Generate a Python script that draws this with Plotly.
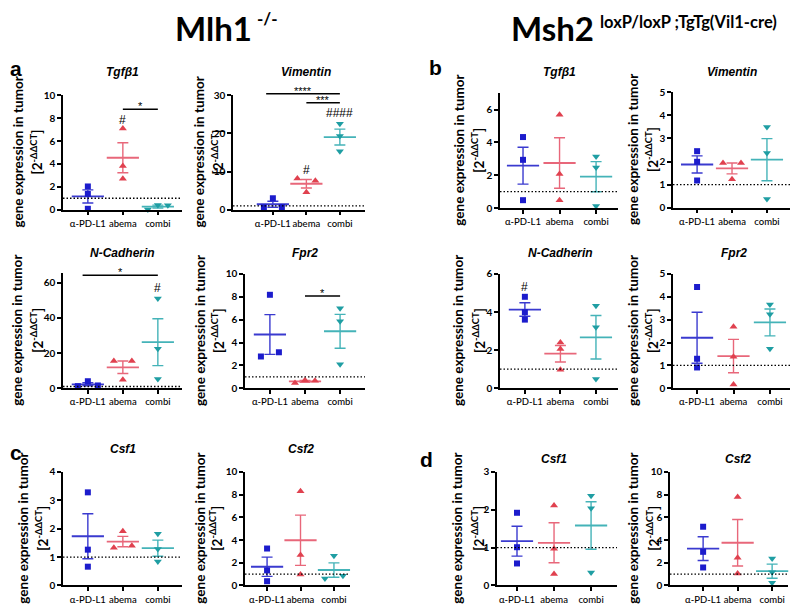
import numpy as np
import plotly.graph_objects as go

# ---------------- data ----------------
categories = ["α-PD-L1", "abema", "combi"]

# each: [alpha-PD-L1 values, abema values, combi values]
a_tgfb1 = [[2.03, 1.37, 0.08], [7.09, 3.82, 2.71], [0.42, 0.02, 0.38]]
a_vimentin = [[3.0, 0.6, 0.7], [8.2, 7.6, 4.6], [22.5, 19.3, 15.3]]
a_ncadherin = [[4.0, 1.2, 1.6], [15.5, 15.5, 4.8], [51.0, 22.5, 5.2]]
a_fpr2 = [[8.18, 2.78, 3.15], [0.70, 0.45, 0.65], [7.0, 5.86, 2.1]]
b_tgfb1 = [[4.33, 2.94, 0.48], [5.69, 2.07, 0.48], [3.14, 2.48, 0.12]]
b_vimentin = [[2.45, 1.99, 1.18], [1.94, 1.94, 1.23], [3.5, 2.37, 0.38]]
b_ncadherin = [[4.8, 3.99, 3.6], [2.4, 2.06, 0.96], [4.33, 3.2, 0.48]]
b_fpr2 = [[4.43, 1.29, 0.91], [2.69, 1.38, 0.16], [3.67, 3.24, 1.73]]
c_csf1 = [[3.28, 1.26, 0.66], [1.91, 1.33, 1.40], [1.82, 1.28, 0.84]]
c_csf2 = [[3.25, 1.32, 0.37], [8.3, 2.67, 0.97], [2.61, 0.6, 0.86]]
d_csf1 = [[1.92, 1.01, 0.58], [2.11, 0.97, 0.30], [2.37, 2.04, 0.34]]
d_csf2 = [[5.17, 2.96, 1.58], [7.78, 2.44, 1.06], [2.38, 1.15, 0.23]]

# significance: bars (x0, x1, y, label) and marks (x, y, label)
sig_a_tgfb1 = dict(bars=[(1, 2, 8.78, "*")], marks=[(1, 7.85, "#")])
sig_a_vimentin = dict(bars=[(-0.2, 2, 30.4, "****"), (1, 2, 28.0, "***")],
                      marks=[(1, 10.4, "#"), (2, 25.3, "####")])
sig_a_ncadherin = dict(bars=[(-0.15, 2, 64.3, "*")], marks=[(2, 56.8, "#")])
sig_a_fpr2 = dict(bars=[(1, 2, 8.07, "*")], marks=[])
sig_b_ncadherin = dict(bars=[], marks=[(0, 5.3, "#")])
no_sig = dict(bars=[], marks=[])

# ---------------- layout / style ----------------
# the page body has an 8px margin, so the figure is 792x602 placed at (8, 8)
OFF = 8
W, H = 800 - OFF, 610 - OFF
def px(x): return (x - OFF) / W
def py(y): return 1 - (y - OFF) / H

COLORS = ["#1c1ccc", "#e0414f", "#1f9ea3"]
LINECOLORS = ["#3a3acf", "#e8677a", "#44b3b8"]
SYMBOLS = ["square", "triangle-up", "triangle-down"]
SIZES = [6, 7, 7]
FONT = "Lato"

panels = [
    dict(data=a_tgfb1, sig=sig_a_tgfb1, title="Tgfβ1", xpx=(63, 182), ypx=(90, 207), yr=(0, 10),
         yt=[0, 2, 4, 6, 8, 10], xr=(-0.71, 2.69), tpy=66, ytx=(18, 37)),
    dict(data=a_vimentin, sig=sig_a_vimentin, title="Vimentin", xpx=(233, 365), ypx=(90, 207), yr=(0, 30),
         yt=[0, 10, 20, 30], xr=(-1.19, 2.75), tpy=66, ytx=(199, 218)),
    dict(data=a_ncadherin, sig=sig_a_ncadherin, title="N-Cadherin", xpx=(63, 182), ypx=(272, 389.5), yr=(0, 65.4),
         yt=[0, 20, 40, 60], xr=(-0.71, 2.69), tpy=251, ytx=(17, 37)),
    dict(data=a_fpr2, sig=sig_a_fpr2, title="Fpr2", xpx=(245, 365), ypx=(272.7, 389.5), yr=(0, 10),
         yt=[0, 2, 4, 6, 8, 10], xr=(-0.71, 2.71), tpy=251, ytx=(200, 218)),
    dict(data=b_tgfb1, sig=no_sig, title="Tgfβ1", xpx=(500, 618), ypx=(88, 205.3), yr=(0, 7),
         yt=[0, 2, 4, 6], xr=(-0.63, 2.6), tpy=66, ytx=(459, 478)),
    dict(data=b_vimentin, sig=no_sig, title="Vimentin", xpx=(673, 790), ypx=(87, 205), yr=(0, 5),
         yt=[0, 1, 2, 3, 4, 5], xr=(-0.69, 2.66), tpy=66, ytx=(633, 652)),
    dict(data=b_ncadherin, sig=sig_b_ncadherin, title="N-Cadherin", xpx=(500, 618), ypx=(272.7, 389.3), yr=(0, 6),
         yt=[0, 2, 4, 6], xr=(-0.7, 2.62), tpy=251, ytx=(458, 479)),
    dict(data=b_fpr2, sig=no_sig, title="Fpr2", xpx=(673, 790), ypx=(272.7, 389.5), yr=(0, 5),
         yt=[0, 1, 2, 3, 4, 5], xr=(-0.66, 2.55), tpy=251, ytx=(633, 652)),
    dict(data=c_csf1, sig=no_sig, title="Csf1", xpx=(63, 182), ypx=(475, 591), yr=(0, 4),
         yt=[0, 1, 2, 3, 4], xr=(-0.71, 2.69), tpy=452, ytx=(23, 42)),
    dict(data=c_csf2, sig=no_sig, title="Csf2", xpx=(245, 350), ypx=(475, 591), yr=(0, 10),
         yt=[0, 2, 4, 6, 8, 10], xr=(-0.66, 2.48), tpy=452, ytx=(200, 216)),
    dict(data=d_csf1, sig=no_sig, title="Csf1", xpx=(497, 617), ypx=(475, 591), yr=(0, 3),
         yt=[0, 1, 2, 3], xr=(-0.54, 2.7), tpy=462, ytx=(457, 478)),
    dict(data=d_csf2, sig=no_sig, title="Csf2", xpx=(670, 788), ypx=(475, 591), yr=(0, 10),
         yt=[0, 2, 4, 6, 8, 10], xr=(-0.96, 2.46), tpy=462, ytx=(633, 653)),
]


def swarm(vals, yunit, thr=6.0):
    """GraphPad-like horizontal spreading of points that would overlap (pixel offsets)."""
    n = len(vals)
    order = sorted(range(n), key=lambda k: vals[k])
    clusters, cur = [], [order[0]]
    for a, b in zip(order, order[1:]):
        if (vals[b] - vals[a]) * yunit < thr:
            cur.append(b)
        else:
            clusters.append(cur)
            cur = [b]
    clusters.append(cur)
    offs = [0.0] * n
    for c in clusters:
        c = sorted(c)
        if len(c) == 2:
            offs[c[0]], offs[c[1]] = -9, 9
        elif len(c) == 3:
            offs[c[0]], offs[c[1]], offs[c[2]] = 0, -10, 10
    return offs


fig = go.Figure()
layout_axes = {}
shapes = []
annotations = []

for i, p in enumerate(panels, start=1):
    xa = "x" if i == 1 else f"x{i}"
    ya = "y" if i == 1 else f"y{i}"
    xname = "xaxis" if i == 1 else f"xaxis{i}"
    yname = "yaxis" if i == 1 else f"yaxis{i}"
    x0, x1 = p["xpx"]
    ytop, ybot = p["ypx"]
    xlo, xhi = p["xr"]
    ylo, yhi = p["yr"]
    xunit = (x1 - x0) / (xhi - xlo)
    yunit = (ybot - ytop) / (yhi - ylo)

    def to_px(xv, yv, x0=x0, xlo=xlo, xunit=xunit, ybot=ybot, ylo=ylo, yunit=yunit):
        return x0 + (xv - xlo) * xunit, ybot - (yv - ylo) * yunit

    layout_axes[xname] = dict(
        domain=[px(x0), px(x1)], range=[xlo, xhi], anchor=ya,
        tickvals=[0, 1, 2], ticktext=categories, tickangle=0,
        showline=True, linecolor="black", linewidth=1.5,
        ticks="outside", ticklen=4, tickwidth=1.5, tickcolor="black",
        showgrid=False, zeroline=False,
        tickfont=dict(family=FONT, size=9.5, color="black", weight=500),
    )
    layout_axes[yname] = dict(
        domain=[py(ybot), py(ytop)], range=[ylo, yhi], anchor=xa,
        tickvals=p["yt"],
        showline=True, linecolor="black", linewidth=1.5,
        ticks="outside", ticklen=4, tickwidth=1.5, tickcolor="black",
        showgrid=False, zeroline=False,
        tickfont=dict(family=FONT, size=10, color="black", weight="bold"),
    )

    # reference line at 1
    shapes.append(dict(type="line", xref=f"{xa} domain", yref=ya, x0=0, x1=1, y0=1, y1=1,
                       line=dict(color="black", width=1.3, dash="1.5px,2px")))

    for g, vals in enumerate(p["data"]):
        offs = swarm(vals, yunit)
        xs = [g + o / xunit for o in offs]
        m = float(np.mean(vals))
        s = float(np.std(vals, ddof=1) / np.sqrt(len(vals)))
        fig.add_trace(go.Scatter(
            x=[g], y=[m], mode="markers", xaxis=xa, yaxis=ya, showlegend=False,
            marker=dict(symbol="line-ew", size=23, color=LINECOLORS[g],
                        line=dict(width=1.8, color=LINECOLORS[g])),
            error_y=dict(type="data", array=[s], visible=True, thickness=1.4, width=5.5,
                         color=LINECOLORS[g]),
            cliponaxis=False, hoverinfo="skip"))
        fig.add_trace(go.Scatter(
            x=xs, y=vals, mode="markers", xaxis=xa, yaxis=ya, showlegend=False,
            marker=dict(symbol=SYMBOLS[g], size=SIZES[g], color=COLORS[g], line=dict(width=0)),
            cliponaxis=False))

    # subplot title (centered over middle category)
    annotations.append(dict(text=f"<b><i>{p['title']}</i></b>", xref="paper", yref="paper",
                            x=px(to_px(1, 0)[0]), y=py(p["tpy"]), showarrow=False,
                            xanchor="center", yanchor="middle",
                            font=dict(family="Liberation Sans", size=12, color="black")))
    # y-axis title (two lines)
    ymid = py((ytop + ybot) / 2)
    annotations.append(dict(text="gene expression in tumor", xref="paper", yref="paper",
                            x=px(p["ytx"][0]), y=ymid, textangle=-90, showarrow=False,
                            xanchor="center", yanchor="middle",
                            font=dict(family=FONT, size=13.5, color="black", weight="bold")))
    annotations.append(dict(text="[2<sup>-ΔΔCT</sup>]", xref="paper", yref="paper",
                            x=px(p["ytx"][1]), y=ymid, textangle=-90, showarrow=False,
                            xanchor="center", yanchor="middle",
                            font=dict(family=FONT, size=13.5, color="black", weight="bold")))

    # significance
    for (bx0, bx1, by, lab) in p["sig"]["bars"]:
        X0, Y = to_px(bx0, by)
        X1, _ = to_px(bx1, by)
        shapes.append(dict(type="line", xref="paper", yref="paper", x0=px(X0), x1=px(X1),
                           y0=py(Y), y1=py(Y), line=dict(color="black", width=1.5)))
        annotations.append(dict(text=lab, xref="paper", yref="paper", x=px((X0 + X1) / 2),
                                y=py(Y - 3), showarrow=False, xanchor="center", yanchor="middle",
                                font=dict(family="Liberation Sans", size=11, color="black")))
    for (mx, my, lab) in p["sig"]["marks"]:
        X, Y = to_px(mx, my)
        annotations.append(dict(text=lab, xref="paper", yref="paper", x=px(X), y=py(Y),
                                showarrow=False, xanchor="center", yanchor="middle",
                                font=dict(family="Liberation Sans", size=12, color="black")))

# panel letters (left-anchored so nothing is cut at the page edge)
for lab, (lx, ly) in {"a": (8, 63), "b": (427, 62), "c": (8, 455), "d": (418, 462)}.items():
    annotations.append(dict(text=f"<b>{lab}</b>", xref="paper", yref="paper", x=px(lx), y=py(ly),
                            showarrow=False, xanchor="left", yanchor="middle",
                            font=dict(family="Liberation Sans", size=21, color="black")))

# big headings
annotations += [
    dict(text="Mlh1", xref="paper", yref="paper", x=px(254), y=py(21), showarrow=False,
         xanchor="right", yanchor="middle",
         font=dict(family=FONT, size=33, color="black", weight="bold")),
    dict(text="-/-", xref="paper", yref="paper", x=px(255), y=py(12), showarrow=False,
         xanchor="left", yanchor="middle",
         font=dict(family=FONT, size=17, color="black", weight="bold")),
    dict(text="Msh2", xref="paper", yref="paper", x=px(596), y=py(21), showarrow=False,
         xanchor="right", yanchor="middle",
         font=dict(family=FONT, size=33, color="black", weight="bold")),
    dict(text="loxP/loxP ;TgTg(Vil1-cre)", xref="paper", yref="paper", x=px(598), y=py(15),
         showarrow=False, xanchor="left", yanchor="middle",
         font=dict(family=FONT, size=16.5, color="black", weight="bold")),
]

fig.update_layout(
    width=W, height=H, margin=dict(l=0, r=0, t=0, b=0),
    paper_bgcolor="white", plot_bgcolor="white",
    shapes=shapes, annotations=annotations, showlegend=False,
    **layout_axes,
)

fig.write_html("out.html")
